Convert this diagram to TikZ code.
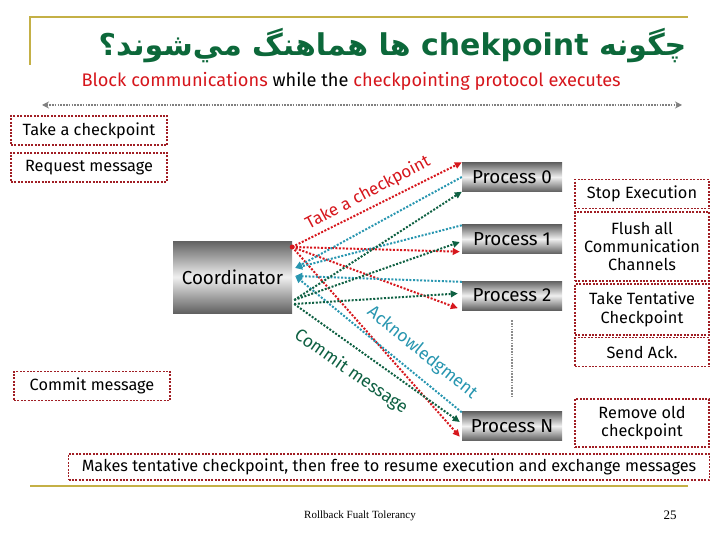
\documentclass[tikz,border=0pt]{standalone}
\usepackage{fontspec}
\setmainfont{Fira Sans}
\newfontfamily\arabicfont[Script=Arabic]{DejaVu Sans}
\newfontfamily\footfont{Liberation Serif}
\TeXXeTstate=1
\usetikzlibrary{arrows.meta,calc,positioning}

\definecolor{rulegold}{RGB}{196,176,70}
\definecolor{titlegreen}{RGB}{12,104,58}
\definecolor{boxred}{RGB}{160,30,36}
\definecolor{ckred}{RGB}{214,22,28}
\definecolor{ackteal}{RGB}{40,150,176}
\definecolor{cmtgreen}{RGB}{14,96,66}

\begin{document}
\begin{tikzpicture}[
    x=1pt, y=-1pt,
    every node/.style={font=\fontsize{16.3}{18.3}\selectfont},
    actbox/.style={draw=boxred, line width=1.7pt, dash pattern=on 2pt off 1.4pt,
      fill=white, align=center, inner sep=0pt, minimum height=29pt},
    procbox/.style={top color=black!62, bottom color=black!62, middle color=black!6,
      draw=none, inner sep=0pt, minimum width=100pt, minimum height=29pt,
      font=\fontsize{18.8}{20.8}\selectfont},
    msg/.style={line width=2pt, dash pattern=on 2pt off 1.6pt,
      -{Triangle[length=7pt,width=6.5pt]}},
    rule/.style={rulegold, line width=2.2pt},
  ]
  \useasboundingbox (0,0) rectangle (720,540);

  % ---- slide frame and heading ---------------------------------------
  \draw[rule] (30,65) -- (30,17) -- (688,17);
  \draw[rule] (30,486) -- (688,486);
  \node[anchor=east, text=titlegreen,
    font=\arabicfont\bfseries\fontsize{30}{32}\selectfont] (title) at (690,46)
    {\beginR چگونه \beginL chekpoint\endL{} ها هماهنگ مي‌شوند؟\endR};
  \node[anchor=west, font=\fontsize{18.2}{20}\selectfont] (sub) at (78,81)
    {\textcolor{ckred}{Block communications} while the
     \textcolor{ckred}{checkpointing protocol executes}};

  % span of the blocked period
  \coordinate (spanL) at (42,105);
  \coordinate (spanR) at (682,105);
  \draw[black!50, line width=1.8pt, dash pattern=on 1.6pt off 1.2pt,
    {Stealth[length=7pt,width=7pt]}-{Stealth[length=7pt,width=7pt]}] (spanL) -- (spanR);

  % ---- coordinator side ----------------------------------------------
  \node[actbox, minimum width=156pt] (takeck) at (89,130.5) {Take a checkpoint};
  \node[actbox, minimum width=156pt, below=6pt of takeck] (reqmsg) {Request message};
  \node[actbox, minimum width=156pt] (cmtmsg) at (92,386) {Commit message};

  \node[procbox, minimum width=119pt, minimum height=72pt] (coord) at (232.5,277) {Coordinator};

  % ---- processes -----------------------------------------------------
  \node[procbox] (p0) at (512,177) {Process 0};
  \node[procbox] (p1) at (512,239) {Process 1};
  \node[procbox] (p2) at (512,295.5) {Process 2};
  \node[procbox] (pN) at (512,426) {Process N};
  \draw[black!45, line width=1.8pt, dash pattern=on 1.6pt off 1.2pt,
    shorten <=10pt, shorten >=13pt] (p2) -- (pN);

  % ---- what a process does -------------------------------------------
  \node[actbox, minimum width=134pt] (stopex) at (642,194) {Stop Execution};
  \node[actbox, minimum width=134pt, minimum height=69pt] (flush) at (642,246.5)
    {Flush all\\Communication\\Channels};
  \node[actbox, minimum width=134pt, minimum height=51pt] (tent) at (642,309.5)
    {Take Tentative\\Checkpoint};
  \node[actbox, minimum width=134pt] (sendack) at (642,352) {Send Ack.};
  \node[actbox, minimum width=134pt, minimum height=48pt] (rmold) at (642,423)
    {Remove old\\checkpoint};
  \node[actbox, minimum width=641pt, minimum height=26pt] (resume) at (389,467)
    {Makes tentative checkpoint, then free to resume execution and exchange messages};

  % ---- messages ------------------------------------------------------
  \coordinate (cred) at ($(coord.east)+(0,-30)$);
  \coordinate (cackA) at ($(coord.east)+(3,-9)$);
  \coordinate (cackB) at ($(coord.east)+(3,-1)$);
  \coordinate (cgrnA) at ($(coord.east)+(2,23)$);
  \coordinate (cgrnB) at ($(coord.east)+(2,27)$);

  % request: take a checkpoint
  \draw[msg, ckred] (cred) -- (p0.north west);
  \draw[msg, ckred] (cred) -- ($(p1.south west)+(-2,-2)$);
  \draw[msg, ckred] (cred) -- ($(p2.south west)+(-4,-2)$);
  \draw[msg, ckred] (cred) -- ($(pN.south west)+(-2,-4)$);
  \fill[ckred] (cred) circle (2.5);

  % acknowledgment back to the coordinator
  \draw[msg, ackteal] (p0.west) -- (cackA);
  \draw[msg, ackteal] ($(p1.north west)+(0,1)$) -- (cackA);
  \draw[msg, ackteal] ($(p2.north west)+(0,1)$) -- (cackB);
  \draw[msg, ackteal] ($(pN.north west)+(0,1)$) -- (cackB);

  % commit
  \draw[msg, cmtgreen] (cgrnA) -- (p0.south west);
  \draw[msg, cmtgreen] (cgrnA) -- ($(p1.west)+(-2,3)$);
  \draw[msg, cmtgreen] (cgrnB) -- ($(p2.west)+(-4,-2)$);
  \draw[msg, cmtgreen] (cgrnB) -- ($(pN.west)+(-2,-4)$);

  \node[rotate=28, text=ckred, font=\fontsize{17}{19}\selectfont] (lblck) at (368,193) {Take a checkpoint};
  \node[rotate=-39, text=ackteal, font=\fontsize{17.5}{19}\selectfont] (lblack) at (422,353) {Acknowledgment};
  \node[rotate=-35, text=cmtgreen, font=\fontsize{17.5}{19}\selectfont] (lblcmt) at (351,372) {Commit message};

  % ---- footer --------------------------------------------------------
  \node[font=\footfont\fontsize{11}{13}\selectfont] (foot) at (360,516) {Rollback Fualt Tolerancy};
  \node[font=\footfont\fontsize{13}{15}\selectfont] (pageno) at (670,515) {25};

\end{tikzpicture}
\end{document}
